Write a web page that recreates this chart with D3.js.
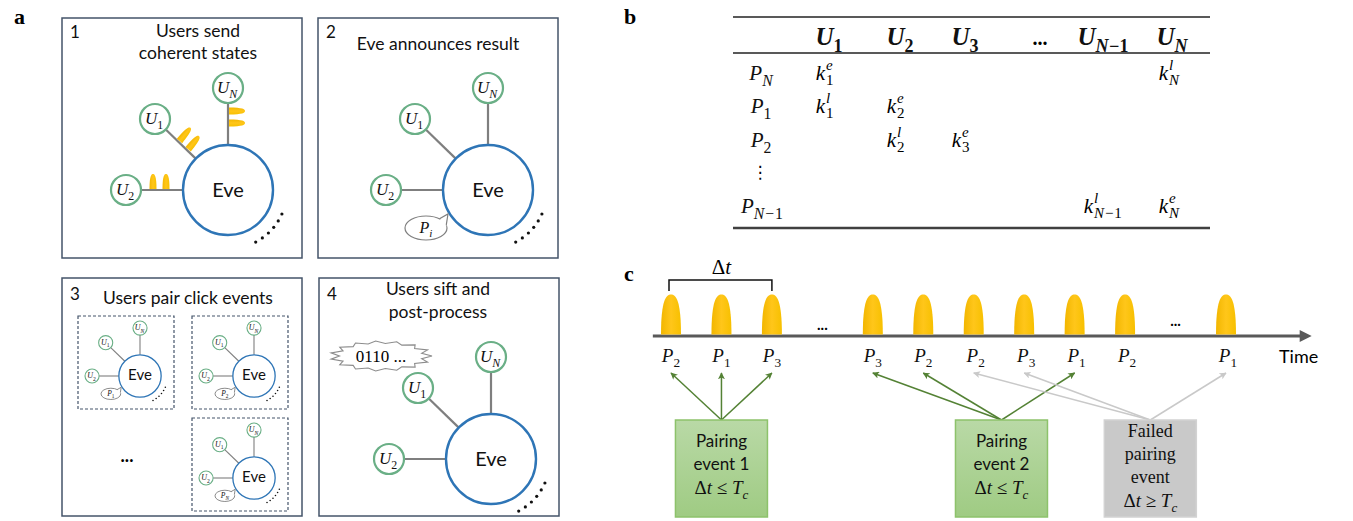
<!DOCTYPE html>
<html><head><meta charset="utf-8">
<script src="https://cdn.jsdelivr.net/npm/d3@7"></script>
<style>body{margin:0;background:#fff} svg{display:block}</style>
</head><body><svg id="c" width="1353" height="521"></svg>
<script>
// ---------- data ----------
const panelNumbers = ["1","2","3","4"];
const panelTitles = [["Users send","coherent states"],["Eve announces result"],["Users pair click events"],["Users sift and","post-process"]];
const userIds = ["N","1","2"];
const smallBubbles = ["1","2","N"];
const cloudText = "0110 ...";
const tableCols = [{b:"U",s:"1"},{b:"U",s:"2"},{b:"U",s:"3"},{b:"...",s:""},{b:"U",s:"N−1"},{b:"U",s:"N"}];
const tableRows = [{b:"P",s:"N"},{b:"P",s:"1"},{b:"P",s:"2"},{b:"⋮",s:""},{b:"P",s:"N−1"}];
const tableCells = [[0,0,"e","1"],[0,5,"l","N"],[1,0,"l","1"],[1,1,"e","2"],[2,1,"l","2"],[2,2,"e","3"],[4,4,"l","N−1"],[4,5,"e","N"]];
const pulseSlots = [0,1,2,4,5,6,7,8,9,11];
const pulseLabels = ["2","1","3","3","2","2","3","1","2","1"];
const gapSlots = [3,10];
const events = [
  {lines:["Pairing","event 1"], cond:"≤", targets:[0,1,2], slot:1, kind:"ok"},
  {lines:["Pairing","event 2"], cond:"≤", targets:[3,4,7], slot:6.55, kind:"ok"},
  {lines:["Failed","pairing","event"], cond:"≥", targets:[5,6,9], slot:9.5, kind:"fail"}
];

// ---------- setup ----------
const svg = d3.select("#c");
const SANS = "Lato, 'Open Sans', sans-serif";
const SERIF = "'Liberation Serif', 'DejaVu Serif', serif";
const defs = svg.append("defs");
svg.append("rect").attr("width",1353).attr("height",521).attr("fill","#fff");

const pg = defs.append("linearGradient").attr("id","pulseG").attr("x1","0").attr("x2","1").attr("y1","0").attr("y2","0");
pg.append("stop").attr("offset","0").attr("stop-color","#f2b600");
pg.append("stop").attr("offset","0.5").attr("stop-color","#ffc61a");
pg.append("stop").attr("offset","1").attr("stop-color","#f7c000");
const gg = defs.append("linearGradient").attr("id","greenG").attr("x1","0").attr("x2","0").attr("y1","0").attr("y2","1");
gg.append("stop").attr("offset","0").attr("stop-color","#b9d9a6");
gg.append("stop").attr("offset","1").attr("stop-color","#9fcb83");
function marker(id,color){
  defs.append("marker").attr("id",id).attr("viewBox","0 0 10 10").attr("refX",9).attr("refY",5)
    .attr("markerWidth",7).attr("markerHeight",7).attr("orient","auto-start-reverse").attr("markerUnits","userSpaceOnUse")
    .append("path").attr("d","M0,0 L10,5 L0,10 L2.5,5 z").attr("fill",color);
}
marker("arG","#548235"); marker("arY","#c9c9c9");

function pulsePath(w,h){
  return `M${-w/2},0 C${-w/2},${-h*0.85} ${-w*0.25},${-h} 0,${-h} C${w*0.25},${-h} ${w/2},${-h*0.85} ${w/2},0 Z`;
}
function mathText(g,x,y,base,sub,size,opts={}){
  const t = g.append("text").attr("x",x).attr("y",y).attr("font-family",SERIF).attr("font-size",size)
    .attr("text-anchor",opts.anchor||"middle").attr("fill","#111")
    .attr("font-weight",opts.bold?"bold":"normal");
  t.append("tspan").attr("font-style",opts.upright?"normal":"italic").text(base);
  if(sub){
    const parts = sub.split(/(\d+)/).filter(s=>s.length);
    let first = true;
    parts.forEach(p=>{
      const sp = t.append("tspan").attr("font-size",size*(opts.subScale||0.7)).attr("font-style",/^\d+$/.test(p)?"normal":"italic").text(p);
      if(first){ sp.attr("dy",size*0.28); first=false; }
    });
  }
  return t;
}

// ---------- panel letters ----------
[["a",14,24],["b",624,24],["c",624,281]].forEach(([l,x,y])=>{
  svg.append("text").attr("x",x).attr("y",y).attr("font-family",SERIF).attr("font-weight","bold").attr("font-size",22).text(l);
});

// ---------- panel a ----------
const panels = [{x:62,y:18},{x:318,y:18},{x:62,y:278},{x:319,y:278}];
const PW=240;
panels.forEach((p,i)=>{
  svg.append("rect").attr("x",p.x).attr("y",p.y).attr("width",PW).attr("height",i<2?240:238)
    .attr("fill","none").attr("stroke","#44546a").attr("stroke-width",1.5);
  svg.append("text").attr("x",p.x+8).attr("y",p.y+(i<2?20:22)).attr("font-family",SANS).attr("font-size",17).attr("fill","#111").text(panelNumbers[i]);
});
const titleY = [[37,59],[50],[304],[295,318]];
const titleX = [198,438,188,438];
panelTitles.forEach((lines,i)=>{
  lines.forEach((ln,j)=>{
    svg.append("text").attr("x",titleX[i]).attr("y",titleY[i][j]).attr("text-anchor","middle")
      .attr("font-family",SANS).attr("font-size",17.5).attr("fill","#111").text(ln);
  });
});

const nodeOffsets = {N:[0,-102],"1":[-73,-71],"2":[-102,0]};
function drawNet(g,cx,cy,s,bubble){
  const R=45*s, r=15*s;
  const lw = Math.max(1.1,2.2*s);
  userIds.forEach(id=>{
    const [dx,dy]=nodeOffsets[id]; const L=Math.hypot(dx,dy); const ux=dx/L, uy=dy/L;
    g.append("line").attr("x1",cx+ux*R).attr("y1",cy+uy*R).attr("x2",cx+dx*s-ux*r).attr("y2",cy+dy*s-uy*r)
      .attr("stroke","#7f7f7f").attr("stroke-width",lw);
  });
  g.append("circle").attr("cx",cx).attr("cy",cy).attr("r",R).attr("fill","#fff").attr("stroke","#2e75b6").attr("stroke-width",Math.max(1.3,2.4*s));
  g.append("text").attr("x",cx).attr("y",cy+7*s+ (s<1?1:0)).attr("text-anchor","middle").attr("font-family",SANS)
    .attr("font-size",s<1?15:20).attr("fill","#111").text("Eve");
  userIds.forEach(id=>{
    const [dx,dy]=nodeOffsets[id];
    g.append("circle").attr("cx",cx+dx*s).attr("cy",cy+dy*s).attr("r",r).attr("fill","#fff").attr("stroke","#6aaf86").attr("stroke-width",Math.max(1.1,2.2*s));
    mathText(g,cx+dx*s-1*s,cy+dy*s+5*s,"U",id,17*s);
  });
  d3.range(6).forEach(k=>{
    const a = (62 - k*(38/5))*Math.PI/180; const rr=59*s;
    g.append("circle").attr("cx",cx+rr*Math.cos(a)).attr("cy",cy+rr*Math.sin(a)).attr("r",Math.max(0.8,1.6*s)).attr("fill","#111");
  });
  if(bubble){
    const ex=cx-62*s, ey=cy+38*s, rx=21*s, ry=12*s;
    const a1=-50*Math.PI/180, a2=-15*Math.PI/180;
    const b1=[ex+rx*Math.cos(a1),ey+ry*Math.sin(a1)], b2=[ex+rx*Math.cos(a2),ey+ry*Math.sin(a2)];
    const tip=[cx-40*s,cy+24*s];
    g.append("ellipse").attr("cx",ex).attr("cy",ey).attr("rx",rx).attr("ry",ry).attr("fill","#fff").attr("stroke","#7f7f7f").attr("stroke-width",Math.max(0.9,1.2*s));
    g.append("path").attr("d",`M${b1[0]-0.5},${b1[1]+1.5}L${tip[0]},${tip[1]}L${b2[0]},${b2[1]+1}Z`).attr("fill","#fff");
    g.append("path").attr("d",`M${b1[0]},${b1[1]}L${tip[0]},${tip[1]}L${b2[0]},${b2[1]}`).attr("fill","none").attr("stroke","#7f7f7f").attr("stroke-width",Math.max(0.9,1.2*s));
    mathText(g,ex,ey+5*s,"P",bubble,16*s);
  }
}
const gA = svg.append("g");
drawNet(gA,228,190,1,null);
drawNet(gA,488,190,1,"i");
drawNet(gA,491,459,1,null);
const subBoxes = [{x:78,y:316},{x:192,y:316},{x:192,y:418}];
subBoxes.forEach((b,i)=>{
  gA.append("rect").attr("x",b.x).attr("y",b.y).attr("width",96).attr("height",93).attr("fill","none")
    .attr("stroke","#44546a").attr("stroke-width",1.2).attr("stroke-dasharray","3,2");
  drawNet(gA,b.x+62,b.y+60,0.47,smallBubbles[i]);
});
gA.append("text").attr("x",127).attr("y",462).attr("text-anchor","middle").attr("font-family",SANS).attr("font-size",18).attr("font-weight","bold").text("...");

const P1 = {cx:228,cy:190};
[-75,-62].forEach(dx=>{
  gA.append("path").attr("d",pulsePath(7,15)).attr("transform",`translate(${P1.cx+dx},${P1.cy-1})`).attr("fill","url(#pulseG)");
});
[-79,-67].forEach(dy=>{
  gA.append("path").attr("d",pulsePath(7,16)).attr("transform",`translate(${P1.cx+1},${P1.cy+dy}) rotate(90)`).attr("fill","url(#pulseG)");
});
[69,57].forEach(d=>{
  const L=Math.hypot(73,71); const ux=-73/L, uy=-71/L;
  gA.append("path").attr("d",pulsePath(7,17)).attr("transform",`translate(${P1.cx+ux*d+1},${P1.cy+uy*d-1}) rotate(40)`).attr("fill","url(#pulseG)");
});

(function(){
  const cx=381, cy=356, rx=51, ry=15, n=30;
  const pts = d3.range(n).map(i=>{
    const t=2*Math.PI*i/n; const m = i%2? 0.84:1.0;
    return [cx+rx*m*Math.cos(t)*(i%2?0.97:1.0), cy+ry*m*Math.sin(t)];
  });
  gA.append("path").attr("d",d3.line()(pts)+"Z").attr("fill","#fff").attr("stroke","#8c8c8c").attr("stroke-width",1.1);
  gA.append("text").attr("x",cx).attr("y",cy+6).attr("text-anchor","middle").attr("font-family",SERIF).attr("font-size",17).text(cloudText);
})();

// ---------- panel b: table ----------
const gB = svg.append("g");
const colX = [829,900,965,1040,1103,1172];
const rowY = [80,113,147,178,213];
gB.append("line").attr("x1",733).attr("x2",1210).attr("y1",17).attr("y2",17).attr("stroke","#222").attr("stroke-width",1.3);
gB.append("line").attr("x1",733).attr("x2",1210).attr("y1",53).attr("y2",53).attr("stroke","#222").attr("stroke-width",1.6);
gB.append("line").attr("x1",733).attr("x2",1210).attr("y1",228).attr("y2",228).attr("stroke","#404040").attr("stroke-width",2.4);
tableCols.forEach((c,i)=>{
  if(c.b==="...") gB.append("text").attr("x",colX[i]).attr("y",45).attr("text-anchor","middle").attr("font-family",SERIF).attr("font-weight","bold").attr("font-size",20).text("...");
  else mathText(gB,colX[i],45,c.b,c.s,25,{bold:true,subScale:0.72});
});
tableRows.forEach((r,i)=>{
  if(r.b==="⋮") gB.append("text").attr("x",760).attr("y",rowY[i]).attr("text-anchor","middle").attr("font-family","'DejaVu Sans', sans-serif").attr("font-size",17).text("⋮");
  else if(r.s.length>1) mathText(gB,741,rowY[i],r.b,r.s,21,{anchor:"start",subScale:0.75});
  else mathText(gB,761,rowY[i],r.b,r.s,21,{subScale:0.75});
});
tableCells.forEach(([ri,ci,sup,sub])=>{
  const x = colX[ci] - (sub.length>1?10:4), y=rowY[ri];
  gB.append("text").attr("x",x).attr("y",y).attr("text-anchor","end").attr("font-family",SERIF).attr("font-style","italic").attr("font-size",21).text("k");
  gB.append("text").attr("x",x+1).attr("y",y-10).attr("font-family",SERIF).attr("font-style","italic").attr("font-size",15).text(sup);
  const st = gB.append("text").attr("x",x+1).attr("y",y+5).attr("font-family",SERIF).attr("font-size",15);
  sub.split(/(\d+)/).filter(s=>s.length).forEach(p=>st.append("tspan").attr("font-style",/^\d+$/.test(p)?"normal":"italic").text(p));
});

// ---------- panel c: timeline ----------
const gC = svg.append("g");
const x = d3.scaleLinear().domain([0,11]).range([671,1226]);
const axisY = 336;
gC.append("line").attr("x1",x(-0.36)).attr("x2",x(12.5)).attr("y1",axisY).attr("y2",axisY).attr("stroke","#595959").attr("stroke-width",3);
gC.append("path").attr("d",`M${x(12.5)-2},${axisY-6} L${x(12.5)+10},${axisY} L${x(12.5)-2},${axisY+6} Z`).attr("fill","#595959");
gC.selectAll(".pulse").data(pulseSlots).join("path").attr("class","pulse")
  .attr("d",pulsePath(20,40)).attr("transform",d=>`translate(${x(d)},${axisY-1.5})`).attr("fill","url(#pulseG)");
gapSlots.forEach((s,i)=>{
  gC.append("text").attr("x",x(s)).attr("y",axisY-(i?10:6)).attr("text-anchor","middle").attr("font-family",SANS).attr("font-weight","bold").attr("font-size",15).text("...");
});
pulseSlots.forEach((s,i)=>{ mathText(gC,x(s)+(i>=5?2:0),362,"P",pulseLabels[i],19); });
gC.append("text").attr("x",1279).attr("y",363).attr("font-family",SANS).attr("font-size",18).text("Time");
gC.append("path").attr("d",`M${x(0)-2},291 V280 H${x(2)} V291`).attr("fill","none").attr("stroke","#111").attr("stroke-width",1.5);
const dt = gC.append("text").attr("x",(x(0)+x(2))/2).attr("y",274).attr("text-anchor","middle").attr("font-family",SERIF).attr("font-size",21);
dt.append("tspan").text("Δ"); dt.append("tspan").attr("font-style","italic").text("t");

const BW=92, BY=420, BH=97;
events.forEach(ev=>{
  const cx = x(ev.slot);
  const col = ev.kind==="ok" ? "#548235" : "#c9c9c9";
  ev.targets.forEach(ti=>{
    gC.append("line").attr("x1",cx).attr("y1",BY).attr("x2",x(pulseSlots[ti])).attr("y2",373)
      .attr("stroke",col).attr("stroke-width",1.5).attr("marker-end",`url(#${ev.kind==="ok"?"arG":"arY"})`);
  });
  gC.append("rect").attr("x",cx-BW/2).attr("y",BY).attr("width",BW).attr("height",BH)
    .attr("fill",ev.kind==="ok"?"url(#greenG)":"#c9c9c9").attr("stroke",ev.kind==="ok"?"#8dc26b":"#d2d2d2").attr("stroke-width",1.5);
  const ys = ev.lines.length===2 ? [447,470] : [437,460,483];
  ev.lines.forEach((ln,j)=>{
    gC.append("text").attr("x",cx).attr("y",ys[j]).attr("text-anchor","middle").attr("font-family",ev.kind==="ok"?SANS:SERIF)
      .attr("font-size",ev.kind==="ok"?17:18).attr("fill","#111").text(ln);
  });
  const my = ev.lines.length===2 ? 494 : 507;
  const t = gC.append("text").attr("x",cx).attr("y",my).attr("text-anchor","middle").attr("font-family",SERIF).attr("font-size",19).attr("fill","#111");
  t.append("tspan").text("Δ"); t.append("tspan").attr("font-style","italic").text("t");
  t.append("tspan").text(" "+ev.cond+" ");
  t.append("tspan").attr("font-style","italic").text("T");
  t.append("tspan").attr("font-style","italic").attr("font-size",13).attr("dy",5).text("c");
});
</script></body></html>
